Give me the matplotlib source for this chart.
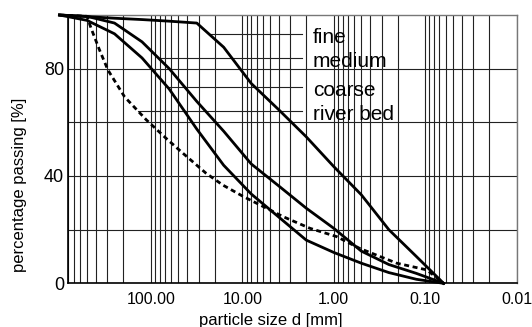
import numpy as np
import matplotlib
matplotlib.use("Agg")
import matplotlib.pyplot as plt
from matplotlib.ticker import FixedLocator, LogLocator, NullFormatter, FormatStrFormatter

plt.rcParams['font.family'] = ['Liberation Sans', 'DejaVu Sans']

# sieve sizes [mm] and percentage passing for the three mixes
sizes = [1000, 500, 250, 125, 63, 31.5, 16, 8, 4, 2, 1, 0.5, 0.25, 0.125, 0.063]
fine = [100, 99.4, 98.8, 98.3, 97.7, 97, 88, 74.5, 64.7, 54.6, 43.5, 33, 20, 10, 0]
medium = [100, 99.5, 97, 90, 80, 67.8, 56.7, 44.5, 36.3, 28, 20.5, 12, 7, 3.7, 0]
coarse = [100, 98, 93, 84, 72.4, 57.5, 44, 33.3, 24.7, 16.1, 11.5, 7.5, 4, 1.5, 0]

# river bed sample, read at its own sizes
rb_sizes = [1000, 500, 450, 365, 295, 194, 112, 68, 44.7, 24.9, 16.3, 9.7, 6.4, 3.56, 1.82, 0.93, 0.52, 0.205, 0.096, 0.063]
river_bed = [100, 99.5, 95, 87, 79.5, 69.5, 60.9, 54, 48.5, 41, 36.6, 32.3, 29.2, 24.8, 20.5, 17.4, 13, 7.5, 5.0, 0]

names = ['fine', 'medium', 'coarse', 'river bed']
label_levels = [92.8, 83.9, 73.1, 64.3]

x_ticks = [100, 10, 1, 0.1, 0.01]
y_ticks = [0, 40, 80]
y_grid = [20, 60]

fig = plt.figure(figsize=(5.32, 3.27), dpi=100)
ax = fig.add_axes([0.1284, 0.1336, 0.8428, 0.8205])

grid_kw = dict(color='#222222', linewidth=0.8)

ax.set_xscale('log')
ax.set_xlim(800, 0.01)
ax.set_ylim(0, 100)
ax.xaxis.set_major_locator(FixedLocator(x_ticks))
ax.xaxis.set_major_formatter(FormatStrFormatter('%.2f'))
ax.xaxis.set_minor_locator(LogLocator(base=10, subs=range(2, 10), numticks=20))
ax.xaxis.set_minor_formatter(NullFormatter())
ax.yaxis.set_major_locator(FixedLocator(y_ticks))
ax.yaxis.set_minor_locator(FixedLocator(y_grid))
ax.grid(which='both', **grid_kw)
ax.set_axisbelow(True)
ax.tick_params(which='both', length=0)
ax.tick_params(axis='x', labelsize=11.5, pad=6)
ax.tick_params(axis='y', labelsize=13, pad=3)

for side in ['left', 'bottom']:
    ax.spines[side].set_linewidth(1.2)
    ax.spines[side].set_color('black')
for side in ['top', 'right']:
    ax.spines[side].set_linewidth(1.0)
    ax.spines[side].set_color('#777777')

curves = [(sizes, fine), (sizes, medium), (sizes, coarse), (rb_sizes, river_bed)]
styles = ['-', '-', '-', (0, (1.8, 1.3))]
for (xs, ys), ls in zip(curves, styles):
    ax.plot(xs, ys, color='black', linewidth=2, linestyle=ls, clip_on=False, zorder=3)

# leader lines from each curve to its label
leader_end = 2.24
for (xs, ys), name, level in zip(curves, names, label_levels):
    start = 10 ** np.interp(level, ys[::-1], np.log10(xs)[::-1])
    ax.plot([start, leader_end], [level, level], **grid_kw, zorder=2)
    ax.annotate(name, (leader_end, level), xytext=(8, -6.5), textcoords='offset points',
                ha='left', va='baseline', fontsize=15)

ax.set_xlabel('particle size d [mm]', fontsize=12, va='top')
ax.xaxis.set_label_coords(0.451, -0.111)
ax.set_ylabel('percentage passing [%]', fontsize=12, va='top')
ax.yaxis.set_label_coords(-0.126, 0.368)

fig.savefig('out.png', dpi=100)
